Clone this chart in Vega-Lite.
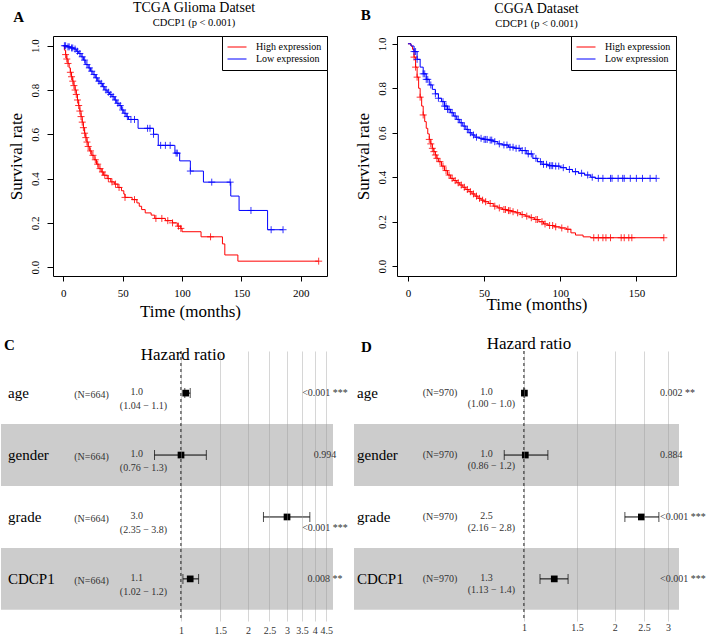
{
  "$schema": "https://vega.github.io/schema/vega-lite/v6.json",
  "padding": {"left": 0, "top": 0, "right": 0, "bottom": 0},
  "background": "white",
  "config": {"font": "Liberation Serif", "view": {"stroke": null}, "title": {"color": "black", "subtitleColor": "black", "fontWeight": "normal", "subtitleFont": "Liberation Serif"}},
  "datasets": {
    "kmA": [
      {"group":"High expression","t":0,"s":1.0},{"group":"High expression","t":1,"s":0.98},{"group":"High expression","t":2,"s":0.96},{"group":"High expression","t":3,"s":0.94},{"group":"High expression","t":4,"s":0.92},{"group":"High expression","t":5,"s":0.9},{"group":"High expression","t":6,"s":0.88},{"group":"High expression","t":7,"s":0.86},{"group":"High expression","t":8,"s":0.84},{"group":"High expression","t":9,"s":0.82},{"group":"High expression","t":10,"s":0.8},{"group":"High expression","t":11,"s":0.78},{"group":"High expression","t":12,"s":0.755},{"group":"High expression","t":13,"s":0.73},{"group":"High expression","t":14,"s":0.705},{"group":"High expression","t":15,"s":0.68},{"group":"High expression","t":16,"s":0.655},{"group":"High expression","t":17,"s":0.63},{"group":"High expression","t":18,"s":0.605},{"group":"High expression","t":19,"s":0.585},{"group":"High expression","t":20,"s":0.565},{"group":"High expression","t":21,"s":0.545},{"group":"High expression","t":22,"s":0.525},{"group":"High expression","t":24,"s":0.505},{"group":"High expression","t":26,"s":0.485},{"group":"High expression","t":28,"s":0.465},{"group":"High expression","t":30,"s":0.445},{"group":"High expression","t":32,"s":0.43},{"group":"High expression","t":34,"s":0.415},{"group":"High expression","t":37,"s":0.4},{"group":"High expression","t":40,"s":0.385},{"group":"High expression","t":43,"s":0.375},{"group":"High expression","t":46,"s":0.36},{"group":"High expression","t":49,"s":0.345},{"group":"High expression","t":51,"s":0.33},{"group":"High expression","t":52,"s":0.315},{"group":"High expression","t":58,"s":0.305},{"group":"High expression","t":62,"s":0.29},{"group":"High expression","t":64,"s":0.275},{"group":"High expression","t":66,"s":0.26},{"group":"High expression","t":69,"s":0.245},{"group":"High expression","t":74,"s":0.235},{"group":"High expression","t":77,"s":0.22},{"group":"High expression","t":86,"s":0.21},{"group":"High expression","t":92,"s":0.2},{"group":"High expression","t":96,"s":0.185},{"group":"High expression","t":99,"s":0.175},{"group":"High expression","t":100,"s":0.16},{"group":"High expression","t":116,"s":0.137},{"group":"High expression","t":134,"s":0.105},{"group":"High expression","t":136,"s":0.055},{"group":"High expression","t":147,"s":0.027},{"group":"High expression","t":215,"s":0.027},
      {"group":"Low expression","t":0,"s":1.0},{"group":"Low expression","t":3,"s":0.995},{"group":"Low expression","t":6,"s":0.99},{"group":"Low expression","t":9,"s":0.985},{"group":"Low expression","t":11,"s":0.975},{"group":"Low expression","t":13,"s":0.965},{"group":"Low expression","t":15,"s":0.95},{"group":"Low expression","t":17,"s":0.935},{"group":"Low expression","t":19,"s":0.915},{"group":"Low expression","t":21,"s":0.9},{"group":"Low expression","t":23,"s":0.885},{"group":"Low expression","t":25,"s":0.87},{"group":"Low expression","t":27,"s":0.855},{"group":"Low expression","t":29,"s":0.84},{"group":"Low expression","t":31,"s":0.83},{"group":"Low expression","t":33,"s":0.815},{"group":"Low expression","t":35,"s":0.8},{"group":"Low expression","t":37,"s":0.79},{"group":"Low expression","t":39,"s":0.78},{"group":"Low expression","t":41,"s":0.77},{"group":"Low expression","t":43,"s":0.755},{"group":"Low expression","t":45,"s":0.74},{"group":"Low expression","t":47,"s":0.73},{"group":"Low expression","t":49,"s":0.71},{"group":"Low expression","t":51,"s":0.695},{"group":"Low expression","t":53,"s":0.68},{"group":"Low expression","t":55,"s":0.667},{"group":"Low expression","t":63,"s":0.627},{"group":"Low expression","t":76,"s":0.6},{"group":"Low expression","t":80,"s":0.55},{"group":"Low expression","t":94,"s":0.515},{"group":"Low expression","t":98,"s":0.48},{"group":"Low expression","t":107,"s":0.434},{"group":"Low expression","t":118,"s":0.384},{"group":"Low expression","t":141,"s":0.321},{"group":"Low expression","t":148,"s":0.256},{"group":"Low expression","t":172,"s":0.169},{"group":"Low expression","t":185,"s":0.169}
    ],
    "censA": [
      {"group":"High expression","t":2,"s":0.96},{"group":"High expression","t":3,"s":0.94},{"group":"High expression","t":4,"s":0.92},{"group":"High expression","t":6,"s":0.88},{"group":"High expression","t":7,"s":0.86},{"group":"High expression","t":8,"s":0.84},{"group":"High expression","t":9,"s":0.82},{"group":"High expression","t":10,"s":0.8},{"group":"High expression","t":11,"s":0.78},{"group":"High expression","t":12,"s":0.755},{"group":"High expression","t":13,"s":0.73},{"group":"High expression","t":14,"s":0.705},{"group":"High expression","t":15,"s":0.68},{"group":"High expression","t":16,"s":0.655},{"group":"High expression","t":17,"s":0.63},{"group":"High expression","t":18,"s":0.605},{"group":"High expression","t":19,"s":0.585},{"group":"High expression","t":20,"s":0.565},{"group":"High expression","t":21,"s":0.545},{"group":"High expression","t":23,"s":0.525},{"group":"High expression","t":25,"s":0.505},{"group":"High expression","t":27,"s":0.485},{"group":"High expression","t":29,"s":0.465},{"group":"High expression","t":31,"s":0.445},{"group":"High expression","t":33,"s":0.43},{"group":"High expression","t":35,"s":0.415},{"group":"High expression","t":38,"s":0.4},{"group":"High expression","t":41,"s":0.385},{"group":"High expression","t":44,"s":0.375},{"group":"High expression","t":47,"s":0.36},{"group":"High expression","t":52,"s":0.315},{"group":"High expression","t":60,"s":0.305},{"group":"High expression","t":78,"s":0.22},{"group":"High expression","t":83,"s":0.22},{"group":"High expression","t":88,"s":0.21},{"group":"High expression","t":92,"s":0.2},{"group":"High expression","t":97,"s":0.185},{"group":"High expression","t":99,"s":0.175},{"group":"High expression","t":124,"s":0.137},{"group":"High expression","t":215,"s":0.027},
      {"group":"Low expression","t":1,"s":1.0},{"group":"Low expression","t":2,"s":1.0},{"group":"Low expression","t":4,"s":0.995},{"group":"Low expression","t":5,"s":0.995},{"group":"Low expression","t":7,"s":0.99},{"group":"Low expression","t":8,"s":0.99},{"group":"Low expression","t":10,"s":0.985},{"group":"Low expression","t":12,"s":0.975},{"group":"Low expression","t":14,"s":0.965},{"group":"Low expression","t":16,"s":0.95},{"group":"Low expression","t":18,"s":0.935},{"group":"Low expression","t":20,"s":0.915},{"group":"Low expression","t":22,"s":0.9},{"group":"Low expression","t":24,"s":0.885},{"group":"Low expression","t":26,"s":0.87},{"group":"Low expression","t":28,"s":0.855},{"group":"Low expression","t":30,"s":0.84},{"group":"Low expression","t":32,"s":0.83},{"group":"Low expression","t":34,"s":0.815},{"group":"Low expression","t":36,"s":0.8},{"group":"Low expression","t":38,"s":0.79},{"group":"Low expression","t":40,"s":0.78},{"group":"Low expression","t":42,"s":0.77},{"group":"Low expression","t":44,"s":0.755},{"group":"Low expression","t":46,"s":0.74},{"group":"Low expression","t":48,"s":0.73},{"group":"Low expression","t":50,"s":0.71},{"group":"Low expression","t":52,"s":0.695},{"group":"Low expression","t":54,"s":0.68},{"group":"Low expression","t":57,"s":0.667},{"group":"Low expression","t":60,"s":0.667},{"group":"Low expression","t":71,"s":0.627},{"group":"Low expression","t":73,"s":0.627},{"group":"Low expression","t":76,"s":0.6},{"group":"Low expression","t":82,"s":0.55},{"group":"Low expression","t":86,"s":0.55},{"group":"Low expression","t":90,"s":0.55},{"group":"Low expression","t":95,"s":0.515},{"group":"Low expression","t":96,"s":0.515},{"group":"Low expression","t":107,"s":0.434},{"group":"Low expression","t":125,"s":0.384},{"group":"Low expression","t":140.5,"s":0.384},{"group":"Low expression","t":158,"s":0.256},{"group":"Low expression","t":175,"s":0.169},{"group":"Low expression","t":185,"s":0.169}
    ],
    "kmB": [
      {"group":"High expression","t":0,"s":1.0},{"group":"High expression","t":2,"s":0.99},{"group":"High expression","t":3,"s":0.975},{"group":"High expression","t":4,"s":0.94},{"group":"High expression","t":5,"s":0.895},{"group":"High expression","t":6,"s":0.85},{"group":"High expression","t":7,"s":0.8},{"group":"High expression","t":8,"s":0.76},{"group":"High expression","t":9,"s":0.72},{"group":"High expression","t":10,"s":0.68},{"group":"High expression","t":11,"s":0.65},{"group":"High expression","t":12,"s":0.62},{"group":"High expression","t":13,"s":0.595},{"group":"High expression","t":14,"s":0.57},{"group":"High expression","t":15,"s":0.55},{"group":"High expression","t":16,"s":0.53},{"group":"High expression","t":17,"s":0.515},{"group":"High expression","t":18,"s":0.5},{"group":"High expression","t":19,"s":0.485},{"group":"High expression","t":20,"s":0.47},{"group":"High expression","t":22,"s":0.45},{"group":"High expression","t":24,"s":0.43},{"group":"High expression","t":26,"s":0.41},{"group":"High expression","t":28,"s":0.395},{"group":"High expression","t":30,"s":0.385},{"group":"High expression","t":32,"s":0.375},{"group":"High expression","t":34,"s":0.365},{"group":"High expression","t":36,"s":0.355},{"group":"High expression","t":38,"s":0.345},{"group":"High expression","t":40,"s":0.335},{"group":"High expression","t":42,"s":0.325},{"group":"High expression","t":44,"s":0.315},{"group":"High expression","t":46,"s":0.305},{"group":"High expression","t":48,"s":0.297},{"group":"High expression","t":50,"s":0.29},{"group":"High expression","t":53,"s":0.282},{"group":"High expression","t":56,"s":0.27},{"group":"High expression","t":59,"s":0.262},{"group":"High expression","t":62,"s":0.255},{"group":"High expression","t":65,"s":0.25},{"group":"High expression","t":68,"s":0.245},{"group":"High expression","t":71,"s":0.24},{"group":"High expression","t":74,"s":0.232},{"group":"High expression","t":77,"s":0.225},{"group":"High expression","t":80,"s":0.218},{"group":"High expression","t":83,"s":0.21},{"group":"High expression","t":86,"s":0.2},{"group":"High expression","t":89,"s":0.19},{"group":"High expression","t":92,"s":0.183},{"group":"High expression","t":96,"s":0.177},{"group":"High expression","t":100,"s":0.172},{"group":"High expression","t":104,"s":0.166},{"group":"High expression","t":107,"s":0.15},{"group":"High expression","t":110,"s":0.14},{"group":"High expression","t":115,"s":0.132},{"group":"High expression","t":120,"s":0.128},{"group":"High expression","t":168,"s":0.128},
      {"group":"Low expression","t":0,"s":1.0},{"group":"Low expression","t":2,"s":0.99},{"group":"Low expression","t":4,"s":0.965},{"group":"Low expression","t":6,"s":0.93},{"group":"Low expression","t":8,"s":0.895},{"group":"Low expression","t":10,"s":0.865},{"group":"Low expression","t":12,"s":0.84},{"group":"Low expression","t":14,"s":0.815},{"group":"Low expression","t":16,"s":0.795},{"group":"Low expression","t":18,"s":0.775},{"group":"Low expression","t":20,"s":0.755},{"group":"Low expression","t":22,"s":0.74},{"group":"Low expression","t":24,"s":0.72},{"group":"Low expression","t":26,"s":0.705},{"group":"Low expression","t":28,"s":0.69},{"group":"Low expression","t":30,"s":0.675},{"group":"Low expression","t":32,"s":0.66},{"group":"Low expression","t":34,"s":0.645},{"group":"Low expression","t":36,"s":0.63},{"group":"Low expression","t":38,"s":0.615},{"group":"Low expression","t":40,"s":0.6},{"group":"Low expression","t":42,"s":0.59},{"group":"Low expression","t":44,"s":0.58},{"group":"Low expression","t":47,"s":0.575},{"group":"Low expression","t":50,"s":0.57},{"group":"Low expression","t":53,"s":0.567},{"group":"Low expression","t":56,"s":0.56},{"group":"Low expression","t":59,"s":0.55},{"group":"Low expression","t":62,"s":0.545},{"group":"Low expression","t":66,"s":0.535},{"group":"Low expression","t":70,"s":0.53},{"group":"Low expression","t":74,"s":0.52},{"group":"Low expression","t":78,"s":0.505},{"group":"Low expression","t":82,"s":0.485},{"group":"Low expression","t":85,"s":0.47},{"group":"Low expression","t":88,"s":0.458},{"group":"Low expression","t":92,"s":0.452},{"group":"Low expression","t":96,"s":0.45},{"group":"Low expression","t":100,"s":0.443},{"group":"Low expression","t":104,"s":0.435},{"group":"Low expression","t":108,"s":0.425},{"group":"Low expression","t":112,"s":0.418},{"group":"Low expression","t":116,"s":0.41},{"group":"Low expression","t":120,"s":0.4},{"group":"Low expression","t":123,"s":0.395},{"group":"Low expression","t":163,"s":0.395}
    ],
    "censB": [
      {"group":"High expression","t":4,"s":0.94},{"group":"High expression","t":5,"s":0.895},{"group":"High expression","t":6,"s":0.85},{"group":"High expression","t":8,"s":0.76},{"group":"High expression","t":10,"s":0.68},{"group":"High expression","t":14,"s":0.57},{"group":"High expression","t":15,"s":0.55},{"group":"High expression","t":16,"s":0.53},{"group":"High expression","t":17,"s":0.515},{"group":"High expression","t":18,"s":0.5},{"group":"High expression","t":19,"s":0.485},{"group":"High expression","t":21,"s":0.47},{"group":"High expression","t":23,"s":0.45},{"group":"High expression","t":25,"s":0.43},{"group":"High expression","t":27,"s":0.41},{"group":"High expression","t":29,"s":0.395},{"group":"High expression","t":31,"s":0.385},{"group":"High expression","t":33,"s":0.375},{"group":"High expression","t":35,"s":0.365},{"group":"High expression","t":37,"s":0.355},{"group":"High expression","t":39,"s":0.345},{"group":"High expression","t":41,"s":0.335},{"group":"High expression","t":43,"s":0.325},{"group":"High expression","t":45,"s":0.315},{"group":"High expression","t":47,"s":0.305},{"group":"High expression","t":49,"s":0.297},{"group":"High expression","t":51,"s":0.29},{"group":"High expression","t":54,"s":0.282},{"group":"High expression","t":57,"s":0.27},{"group":"High expression","t":60,"s":0.262},{"group":"High expression","t":63,"s":0.255},{"group":"High expression","t":64,"s":0.255},{"group":"High expression","t":66,"s":0.25},{"group":"High expression","t":67,"s":0.25},{"group":"High expression","t":69,"s":0.245},{"group":"High expression","t":72,"s":0.24},{"group":"High expression","t":75,"s":0.232},{"group":"High expression","t":78,"s":0.225},{"group":"High expression","t":81,"s":0.218},{"group":"High expression","t":84,"s":0.21},{"group":"High expression","t":85,"s":0.21},{"group":"High expression","t":88,"s":0.2},{"group":"High expression","t":90,"s":0.19},{"group":"High expression","t":93,"s":0.183},{"group":"High expression","t":95,"s":0.183},{"group":"High expression","t":97,"s":0.177},{"group":"High expression","t":101,"s":0.172},{"group":"High expression","t":105,"s":0.166},{"group":"High expression","t":122,"s":0.128},{"group":"High expression","t":125,"s":0.128},{"group":"High expression","t":128,"s":0.128},{"group":"High expression","t":130,"s":0.128},{"group":"High expression","t":133,"s":0.128},{"group":"High expression","t":140,"s":0.128},{"group":"High expression","t":142,"s":0.128},{"group":"High expression","t":145,"s":0.128},{"group":"High expression","t":147,"s":0.128},{"group":"High expression","t":168,"s":0.128},
      {"group":"Low expression","t":4,"s":0.965},{"group":"Low expression","t":5,"s":0.965},{"group":"Low expression","t":6,"s":0.93},{"group":"Low expression","t":10,"s":0.865},{"group":"Low expression","t":11,"s":0.865},{"group":"Low expression","t":12,"s":0.84},{"group":"Low expression","t":13,"s":0.84},{"group":"Low expression","t":15,"s":0.815},{"group":"Low expression","t":18,"s":0.775},{"group":"Low expression","t":20,"s":0.755},{"group":"Low expression","t":23,"s":0.74},{"group":"Low expression","t":24,"s":0.72},{"group":"Low expression","t":25,"s":0.72},{"group":"Low expression","t":26,"s":0.705},{"group":"Low expression","t":27,"s":0.705},{"group":"Low expression","t":29,"s":0.69},{"group":"Low expression","t":31,"s":0.675},{"group":"Low expression","t":33,"s":0.66},{"group":"Low expression","t":35,"s":0.645},{"group":"Low expression","t":37,"s":0.63},{"group":"Low expression","t":39,"s":0.615},{"group":"Low expression","t":41,"s":0.6},{"group":"Low expression","t":43,"s":0.59},{"group":"Low expression","t":45,"s":0.58},{"group":"Low expression","t":48,"s":0.575},{"group":"Low expression","t":50,"s":0.57},{"group":"Low expression","t":51,"s":0.57},{"group":"Low expression","t":52,"s":0.57},{"group":"Low expression","t":54,"s":0.567},{"group":"Low expression","t":55,"s":0.567},{"group":"Low expression","t":57,"s":0.56},{"group":"Low expression","t":60,"s":0.55},{"group":"Low expression","t":63,"s":0.545},{"group":"Low expression","t":65,"s":0.545},{"group":"Low expression","t":67,"s":0.535},{"group":"Low expression","t":69,"s":0.535},{"group":"Low expression","t":71,"s":0.53},{"group":"Low expression","t":73,"s":0.53},{"group":"Low expression","t":75,"s":0.52},{"group":"Low expression","t":77,"s":0.52},{"group":"Low expression","t":79,"s":0.505},{"group":"Low expression","t":81,"s":0.505},{"group":"Low expression","t":84,"s":0.485},{"group":"Low expression","t":87,"s":0.47},{"group":"Low expression","t":89,"s":0.458},{"group":"Low expression","t":91,"s":0.458},{"group":"Low expression","t":93,"s":0.452},{"group":"Low expression","t":94,"s":0.452},{"group":"Low expression","t":95,"s":0.452},{"group":"Low expression","t":97,"s":0.45},{"group":"Low expression","t":99,"s":0.45},{"group":"Low expression","t":102,"s":0.443},{"group":"Low expression","t":106,"s":0.435},{"group":"Low expression","t":110,"s":0.425},{"group":"Low expression","t":114,"s":0.418},{"group":"Low expression","t":118,"s":0.41},{"group":"Low expression","t":121,"s":0.4},{"group":"Low expression","t":125,"s":0.395},{"group":"Low expression","t":128,"s":0.395},{"group":"Low expression","t":133,"s":0.395},{"group":"Low expression","t":134,"s":0.395},{"group":"Low expression","t":138,"s":0.395},{"group":"Low expression","t":141,"s":0.395},{"group":"Low expression","t":142,"s":0.395},{"group":"Low expression","t":146,"s":0.395},{"group":"Low expression","t":150,"s":0.395},{"group":"Low expression","t":154,"s":0.395},{"group":"Low expression","t":159,"s":0.395},{"group":"Low expression","t":163,"s":0.395}
    ],
    "forestC": [
      {"var":"age","n":"(N=664)","est":"1.0","ci":"(1.04 − 1.1)","hr":1.05,"lo":1.04,"hi":1.1,"p":"<0.001 ***"},
      {"var":"gender","n":"(N=664)","est":"1.0","ci":"(0.76 − 1.3)","hr":1.0,"lo":0.76,"hi":1.3,"p":"0.994"},
      {"var":"grade","n":"(N=664)","est":"3.0","ci":"(2.35 − 3.8)","hr":3.0,"lo":2.35,"hi":3.8,"p":"<0.001 ***"},
      {"var":"CDCP1","n":"(N=664)","est":"1.1","ci":"(1.02 − 1.2)","hr":1.1,"lo":1.02,"hi":1.2,"p":"0.008 **"}
    ],
    "forestD": [
      {"var":"age","n":"(N=970)","est":"1.0","ci":"(1.00 − 1.0)","hr":1.003,"lo":1.0,"hi":1.005,"p":"0.002 **"},
      {"var":"gender","n":"(N=970)","est":"1.0","ci":"(0.86 − 1.2)","hr":1.01,"lo":0.86,"hi":1.2,"p":"0.884"},
      {"var":"grade","n":"(N=970)","est":"2.5","ci":"(2.16 − 2.8)","hr":2.45,"lo":2.16,"hi":2.8,"p":"<0.001 ***"},
      {"var":"CDCP1","n":"(N=970)","est":"1.3","ci":"(1.13 − 1.4)","hr":1.26,"lo":1.13,"hi":1.4,"p":"<0.001 ***"}
    ]
  },
  "spacing": 315,
  "bounds": "flush",
  "vconcat": [
    {
      "hconcat": [
        {
          "width": 274, "height": 240,
          "view": {"stroke": "black", "strokeWidth": 1},
          "title": {"text": "TCGA Glioma Datset", "subtitle": "CDCP1 (p < 0.001)", "fontSize": 14, "subtitleFontSize": 10.5, "subtitlePadding": 3, "offset": -19, "dx": 4, "anchor": "middle"},
          "layer": [
            {
              "data": {"name": "kmA"},
              "mark": {"type": "line", "interpolate": "step-after", "strokeWidth": 1},
              "encoding": {
                "x": {"field": "t", "type": "quantitative", "scale": {"domain": [-8.6, 222], "nice": false, "zero": false},
                  "axis": {"values": [0,50,100,150,200], "title": "Time (months)", "titleFontSize": 17, "titleFontWeight": "normal", "titleColor": "black", "titlePadding": 5, "labelFontSize": 11, "labelColor": "black", "labelPadding": 6, "tickSize": 5, "tickColor": "black", "domain": false, "grid": false, "labelFlush": false}},
                "y": {"field": "s", "type": "quantitative", "scale": {"domain": [-0.04, 1.044], "nice": false, "zero": false},
                  "axis": {"values": [0,0.2,0.4,0.6,0.8,1], "format": ".1f", "labelAngle": -90, "title": "Survival rate", "titleFontSize": 17, "titleFontWeight": "normal", "titleColor": "black", "titlePadding": 4, "labelFontSize": 11, "labelColor": "black", "labelPadding": 7, "tickSize": 6, "tickColor": "black", "domain": false, "grid": false, "labelFlush": false}},
                "color": {"field": "group", "type": "nominal", "scale": {"domain": ["High expression", "Low expression"], "range": ["#FF0000", "#0000FF"]},
                  "legend": {"title": null, "orient": "top-right", "offset": 0, "strokeColor": "black", "fillColor": "white", "padding": 5, "labelFontSize": 10, "labelColor": "black", "symbolType": "stroke", "symbolSize": 361, "symbolStrokeWidth": 1, "clipHeight": 12, "labelOffset": 9, "rowPadding": 0, "cornerRadius": 0}}
              }
            },
            {
              "data": {"name": "censA"},
              "mark": {"type": "point", "shape": "M-1,0L1,0M0,-1L0,1", "filled": false, "size": 49, "strokeWidth": 1, "opacity": 0.8},
              "encoding": {
                "x": {"field": "t", "type": "quantitative"},
                "y": {"field": "s", "type": "quantitative"},
                "color": {"field": "group", "type": "nominal", "legend": null}
              }
            },
            {
              "data": {"values": [{"label": "A"}]},
              "mark": {"type": "text", "fontSize": 15, "fontWeight": "bold", "align": "left", "baseline": "middle", "color": "black"},
              "encoding": {"x": {"datum": -42}, "y": {"datum": 1.13}, "text": {"field": "label"}}
            }
          ]
        },
        {
          "width": 279, "height": 240,
          "view": {"stroke": "black", "strokeWidth": 1},
          "title": {"text": "CGGA Dataset", "subtitle": "CDCP1 (p < 0.001)", "fontSize": 14, "subtitleFontSize": 10.5, "subtitlePadding": 3, "offset": -21, "dx": 0, "anchor": "middle"},
          "layer": [
            {
              "data": {"name": "kmB"},
              "mark": {"type": "line", "interpolate": "step-after", "strokeWidth": 1},
              "encoding": {
                "x": {"field": "t", "type": "quantitative", "scale": {"domain": [-7.2, 176], "nice": false, "zero": false},
                  "axis": {"values": [0,50,100,150], "title": "Time (months)", "titleFontSize": 17, "titleFontWeight": "normal", "titleColor": "black", "titlePadding": -2, "labelFontSize": 11, "labelColor": "black", "labelPadding": 6, "tickSize": 5, "tickColor": "black", "domain": false, "grid": false, "labelFlush": false}},
                "y": {"field": "s", "type": "quantitative", "scale": {"domain": [-0.044, 1.035], "nice": false, "zero": false},
                  "axis": {"values": [0,0.2,0.4,0.6,0.8,1], "format": ".1f", "labelAngle": -90, "title": "Survival rate", "titleFontSize": 17, "titleFontWeight": "normal", "titleColor": "black", "titlePadding": 4, "labelFontSize": 11, "labelColor": "black", "labelPadding": 5, "tickSize": 5, "tickColor": "black", "domain": false, "grid": false, "labelFlush": false}},
                "color": {"field": "group", "type": "nominal", "scale": {"domain": ["High expression", "Low expression"], "range": ["#FF0000", "#0000FF"]},
                  "legend": {"title": null, "orient": "top-right", "offset": 0, "strokeColor": "black", "fillColor": "white", "padding": 5, "labelFontSize": 10, "labelColor": "black", "symbolType": "stroke", "symbolSize": 361, "symbolStrokeWidth": 1, "clipHeight": 12, "labelOffset": 9, "rowPadding": 0, "cornerRadius": 0}}
              }
            },
            {
              "data": {"name": "censB"},
              "mark": {"type": "point", "shape": "M-1,0L1,0M0,-1L0,1", "filled": false, "size": 49, "strokeWidth": 1, "opacity": 0.8},
              "encoding": {
                "x": {"field": "t", "type": "quantitative"},
                "y": {"field": "s", "type": "quantitative"},
                "color": {"field": "group", "type": "nominal", "legend": null}
              }
            },
            {
              "data": {"values": [{"label": "B"}]},
              "mark": {"type": "text", "fontSize": 15, "fontWeight": "bold", "align": "left", "baseline": "middle", "color": "black"},
              "encoding": {"x": {"datum": -31}, "y": {"datum": 1.128}, "text": {"field": "label"}}
            }
          ]
        }
      ],
      "spacing": 70,
      "bounds": "flush",
      "resolve": {"scale": {"color": "independent"}, "legend": {"color": "independent"}}
    },
    {
      "hconcat": [
        {
          "width": 280, "height": 270,
          "data": {"name": "forestC"},
          "title": {"text": "Hazard ratio", "fontSize": 17, "offset": -26, "dx": -10, "anchor": "middle"},
          "layer": [
            {
              "transform": [{"filter": {"field": "var", "oneOf": ["gender", "CDCP1"]}}],
              "mark": {"type": "rect", "color": "#cccccc"},
              "encoding": {
                "x": {"datum": 0.1548, "type": "quantitative", "scale": {"type": "log", "domain": [0.2654, 4.831], "nice": false},
                  "axis": {"values": [1,1.5,2,2.5,3,3.5,4,4.5], "format": "~g", "title": null, "domain": false, "ticks": false, "grid": true, "gridColor": "#999999", "gridOpacity": 0.4, "labelFontSize": 10, "labelColor": "#333333", "labelPadding": 4, "labelOverlap": false, "labelFlush": false, "zindex": 1}},
                "x2": {"datum": 4.831},
                "y": {"field": "var", "type": "nominal", "scale": {"domain": ["age", "gender", "grade", "CDCP1"], "paddingOuter": 0.18, "paddingInner": 0}, "axis": null}
              }
            },
            {
              "transform": [{"filter": {"field": "var", "equal": "age"}}],
              "mark": {"type": "rule", "strokeDash": [3, 3], "color": "black", "strokeWidth": 1},
              "encoding": {"x": {"datum": 1}}
            },
            {
              "mark": {"type": "rule", "color": "black", "strokeWidth": 1},
              "encoding": {"x": {"field": "lo", "type": "quantitative"}, "x2": {"field": "hi"}, "y": {"field": "var", "type": "nominal"}}
            },
            {
              "mark": {"type": "tick", "color": "black", "thickness": 1, "size": 10, "orient": "vertical"},
              "encoding": {"x": {"field": "lo", "type": "quantitative"}, "y": {"field": "var", "type": "nominal"}}
            },
            {
              "mark": {"type": "tick", "color": "black", "thickness": 1, "size": 10, "orient": "vertical"},
              "encoding": {"x": {"field": "hi", "type": "quantitative"}, "y": {"field": "var", "type": "nominal"}}
            },
            {
              "mark": {"type": "point", "shape": "square", "filled": true, "color": "black", "size": 45, "opacity": 1},
              "encoding": {"x": {"field": "hr", "type": "quantitative"}, "y": {"field": "var", "type": "nominal"}}
            },
            {
              "mark": {"type": "text", "fontSize": 15, "align": "left", "baseline": "middle", "color": "black"},
              "encoding": {"x": {"datum": 0.1665}, "y": {"field": "var", "type": "nominal"}, "text": {"field": "var"}}
            },
            {
              "mark": {"type": "text", "fontSize": 10, "align": "center", "baseline": "middle", "color": "#333333", "dy": 2},
              "encoding": {"x": {"datum": 0.3956}, "y": {"field": "var", "type": "nominal"}, "text": {"field": "n"}}
            },
            {
              "mark": {"type": "text", "fontSize": 10, "align": "center", "baseline": "middle", "color": "#333333", "dy": -1},
              "encoding": {"x": {"datum": 0.6325}, "y": {"field": "var", "type": "nominal"}, "text": {"field": "est"}}
            },
            {
              "mark": {"type": "text", "fontSize": 10, "align": "center", "baseline": "middle", "color": "#333333", "dy": 13},
              "encoding": {"x": {"datum": 0.678}, "y": {"field": "var", "type": "nominal"}, "text": {"field": "ci"}}
            },
            {
              "transform": [{"filter": {"field": "var", "oneOf": ["age", "gender", "CDCP1"]}}],
              "mark": {"type": "text", "fontSize": 10, "align": "center", "baseline": "middle", "color": "#333333"},
              "encoding": {"x": {"datum": 4.447}, "y": {"field": "var", "type": "nominal"}, "text": {"field": "p"}}
            },
            {
              "transform": [{"filter": {"field": "var", "equal": "grade"}}],
              "mark": {"type": "text", "fontSize": 10, "align": "center", "baseline": "middle", "color": "#333333", "dy": 11},
              "encoding": {"x": {"datum": 4.447}, "y": {"field": "var", "type": "nominal"}, "text": {"field": "p"}}
            },
            {
              "data": {"values": [{"label": "C"}]},
              "mark": {"type": "text", "fontSize": 15, "fontWeight": "bold", "align": "left", "baseline": "middle", "color": "black", "dy": -48},
              "encoding": {"x": {"datum": 0.1597}, "y": {"datum": "age", "type": "nominal"}, "text": {"field": "label"}}
            }
          ]
        },
        {
          "width": 282, "height": 270,
          "data": {"name": "forestD"},
          "title": {"text": "Hazard ratio", "fontSize": 17, "offset": -13, "dx": -9, "anchor": "middle"},
          "layer": [
            {
              "transform": [{"filter": {"field": "var", "oneOf": ["gender", "CDCP1"]}}],
              "mark": {"type": "rect", "color": "#cccccc"},
              "encoding": {
                "x": {"datum": 0.2732, "type": "quantitative", "scale": {"type": "log", "domain": [0.3793, 3.265], "nice": false},
                  "axis": {"values": [1,1.5,2,2.5,3], "format": "~g", "title": null, "domain": false, "ticks": false, "grid": true, "gridColor": "#999999", "gridOpacity": 0.4, "labelFontSize": 10, "labelColor": "#333333", "labelPadding": 1, "labelOverlap": false, "labelFlush": false, "zindex": 1}},
                "x2": {"datum": 3.265},
                "y": {"field": "var", "type": "nominal", "scale": {"domain": ["age", "gender", "grade", "CDCP1"], "paddingOuter": 0.18, "paddingInner": 0}, "axis": null}
              }
            },
            {
              "transform": [{"filter": {"field": "var", "equal": "age"}}],
              "mark": {"type": "rule", "strokeDash": [3, 3], "color": "black", "strokeWidth": 1},
              "encoding": {"x": {"datum": 1}}
            },
            {
              "mark": {"type": "rule", "color": "black", "strokeWidth": 1},
              "encoding": {"x": {"field": "lo", "type": "quantitative"}, "x2": {"field": "hi"}, "y": {"field": "var", "type": "nominal"}}
            },
            {
              "mark": {"type": "tick", "color": "black", "thickness": 1, "size": 10, "orient": "vertical"},
              "encoding": {"x": {"field": "lo", "type": "quantitative"}, "y": {"field": "var", "type": "nominal"}}
            },
            {
              "mark": {"type": "tick", "color": "black", "thickness": 1, "size": 10, "orient": "vertical"},
              "encoding": {"x": {"field": "hi", "type": "quantitative"}, "y": {"field": "var", "type": "nominal"}}
            },
            {
              "mark": {"type": "point", "shape": "square", "filled": true, "color": "black", "size": 45, "opacity": 1},
              "encoding": {"x": {"field": "hr", "type": "quantitative"}, "y": {"field": "var", "type": "nominal"}}
            },
            {
              "mark": {"type": "text", "fontSize": 15, "align": "left", "baseline": "middle", "color": "black"},
              "encoding": {"x": {"datum": 0.2795}, "y": {"field": "var", "type": "nominal"}, "text": {"field": "var"}}
            },
            {
              "mark": {"type": "text", "fontSize": 10, "align": "center", "baseline": "middle", "color": "#333333"},
              "encoding": {"x": {"datum": 0.5267}, "y": {"field": "var", "type": "nominal"}, "text": {"field": "n"}}
            },
            {
              "mark": {"type": "text", "fontSize": 10, "align": "center", "baseline": "middle", "color": "#333333", "dy": -1},
              "encoding": {"x": {"datum": 0.751}, "y": {"field": "var", "type": "nominal"}, "text": {"field": "est"}}
            },
            {
              "mark": {"type": "text", "fontSize": 10, "align": "center", "baseline": "middle", "color": "#333333", "dy": 11},
              "encoding": {"x": {"datum": 0.78}, "y": {"field": "var", "type": "nominal"}, "text": {"field": "ci"}}
            },
            {
              "mark": {"type": "text", "fontSize": 10, "align": "left", "baseline": "middle", "color": "#333333"},
              "encoding": {"x": {"datum": 2.824}, "y": {"field": "var", "type": "nominal"}, "text": {"field": "p"}}
            },
            {
              "data": {"values": [{"label": "D"}]},
              "mark": {"type": "text", "fontSize": 15, "fontWeight": "bold", "align": "left", "baseline": "middle", "color": "black", "dy": -46},
              "encoding": {"x": {"datum": 0.2882}, "y": {"datum": "age", "type": "nominal"}, "text": {"field": "label"}}
            }
          ]
        }
      ],
      "spacing": 64,
      "bounds": "flush"
    }
  ]
}
